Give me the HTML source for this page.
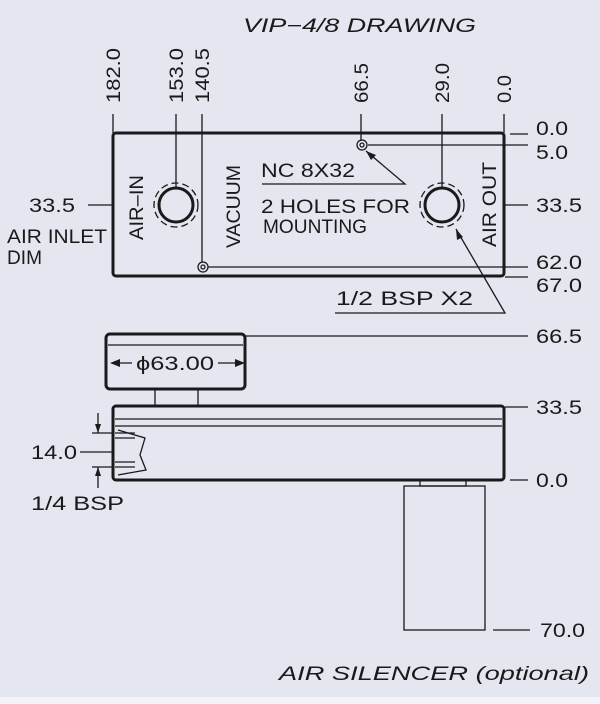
<!DOCTYPE html>
<html><head><style>
html,body{margin:0;padding:0;background:#e4e6f0;}
svg{display:block}
text{font-family:"Liberation Sans",sans-serif;fill:#1a1a1a;font-size:19px}
</style></head><body>
<svg width="600" height="704" viewBox="0 0 600 704">
<rect width="600" height="697" fill="#e4e6f0"/>
<rect y="697" width="600" height="7" fill="#f4f4f8"/>
<g stroke="#1a1a1a" fill="none" stroke-width="1.3">
<rect x="113" y="133" width="391" height="143" rx="3" stroke-width="3"/>
<line x1="113" y1="114" x2="113" y2="133"/>
<line x1="176" y1="114" x2="176" y2="188"/>
<line x1="202" y1="114" x2="202" y2="262"/>
<line x1="361" y1="114" x2="361" y2="141"/>
<line x1="442" y1="114" x2="442" y2="188"/>
<line x1="504" y1="114" x2="504" y2="133"/>
<line x1="510" y1="134" x2="528" y2="134"/>
<line x1="368" y1="145" x2="528" y2="145"/>
<line x1="505" y1="205" x2="528" y2="205"/>
<line x1="208" y1="267" x2="528" y2="267"/>
<line x1="505" y1="277" x2="528" y2="277"/>
<line x1="88" y1="205" x2="113" y2="205"/>
<circle cx="176" cy="205" r="17" stroke-width="3"/>
<circle cx="176" cy="205" r="22" stroke-dasharray="7 4"/>
<circle cx="442" cy="205" r="17" stroke-width="3"/>
<circle cx="442" cy="205" r="22" stroke-dasharray="7 4"/>
<circle cx="362" cy="145" r="5"/><circle cx="362" cy="145" r="2"/>
<circle cx="203" cy="267" r="5"/><circle cx="203" cy="267" r="2"/>
<polyline points="262,184 405,184 366,151"/>
<polyline points="335,313 505,313 456,229"/>
<rect x="106" y="334" width="139" height="55" rx="4" stroke-width="3"/>
<line x1="108" y1="345" x2="243" y2="345"/>
<rect x="155" y="389" width="43" height="17"/>
<line x1="245" y1="336" x2="528" y2="336"/>
<line x1="112" y1="363" x2="132" y2="363"/>
<line x1="218" y1="363" x2="243" y2="363"/>
<rect x="113" y="406" width="391" height="74" rx="3" stroke-width="3"/>
<line x1="115" y1="419" x2="502" y2="419"/>
<line x1="115" y1="426" x2="502" y2="426"/>
<line x1="505" y1="407" x2="528" y2="407"/>
<line x1="510" y1="480" x2="528" y2="480"/>
<line x1="115" y1="433" x2="135" y2="433"/>
<line x1="115" y1="438" x2="135" y2="438"/>
<line x1="115" y1="462" x2="135" y2="462"/>
<line x1="115" y1="467" x2="135" y2="467"/>
<polyline points="118,430 145,438 140,455 146,470 118,475"/>
<line x1="98" y1="413" x2="98" y2="433"/>
<line x1="98" y1="467" x2="98" y2="488"/>
<line x1="92" y1="433" x2="113" y2="433"/>
<line x1="92" y1="467" x2="113" y2="467"/>
<line x1="80" y1="452" x2="113" y2="452"/>
<rect x="420" y="480" width="46" height="6"/>
<rect x="404" y="486" width="81" height="144"/>
<line x1="493" y1="630" x2="530" y2="630"/>
</g>
<g fill="#1a1a1a">
<polygon points="366,151 376,155 371,160"/>
<polygon points="456,229 463,237 457,240"/>
<polygon points="110,363 120,359 120,367"/>
<polygon points="245,363 235,359 235,367"/>
<polygon points="98,433 95,424 101,424"/>
<polygon points="98,467 95,476 101,476"/>
</g>
<text x="243" y="32" font-size="25" font-style="italic" textLength="233" lengthAdjust="spacingAndGlyphs">VIP−4/8  DRAWING</text>
<g>
<text transform="translate(120,103) rotate(-90)" textLength="55" lengthAdjust="spacingAndGlyphs">182.0</text>
<text transform="translate(183,103) rotate(-90)" textLength="55" lengthAdjust="spacingAndGlyphs">153.0</text>
<text transform="translate(209,103) rotate(-90)" textLength="55" lengthAdjust="spacingAndGlyphs">140.5</text>
<text transform="translate(368,103) rotate(-90)" textLength="40" lengthAdjust="spacingAndGlyphs">66.5</text>
<text transform="translate(449,103) rotate(-90)" textLength="40" lengthAdjust="spacingAndGlyphs">29.0</text>
<text transform="translate(511,103) rotate(-90)" textLength="28" lengthAdjust="spacingAndGlyphs">0.0</text>
<text x="536" y="135" textLength="32" lengthAdjust="spacingAndGlyphs">0.0</text>
<text x="536" y="159" textLength="32" lengthAdjust="spacingAndGlyphs">5.0</text>
<text x="536" y="212" textLength="46" lengthAdjust="spacingAndGlyphs">33.5</text>
<text x="536" y="269" textLength="46" lengthAdjust="spacingAndGlyphs">62.0</text>
<text x="536" y="292" textLength="46" lengthAdjust="spacingAndGlyphs">67.0</text>
<text x="29" y="212" textLength="46" lengthAdjust="spacingAndGlyphs">33.5</text>
<text x="7" y="243" textLength="100" lengthAdjust="spacingAndGlyphs">AIR  INLET</text>
<text x="7" y="264" textLength="35" lengthAdjust="spacingAndGlyphs">DIM</text>
<text transform="translate(143,240) rotate(-90)" textLength="65" lengthAdjust="spacingAndGlyphs">AIR–IN</text>
<text transform="translate(240,248) rotate(-90)" textLength="83" lengthAdjust="spacingAndGlyphs">VACUUM</text>
<text transform="translate(496,247) rotate(-90)" textLength="85" lengthAdjust="spacingAndGlyphs">AIR  OUT</text>
<text x="261" y="177" textLength="94" lengthAdjust="spacingAndGlyphs">NC  8X32</text>
<text x="261" y="213" textLength="149" lengthAdjust="spacingAndGlyphs">2  HOLES  FOR</text>
<text x="263" y="233" font-size="20" textLength="104" lengthAdjust="spacingAndGlyphs">MOUNTING</text>
<text x="336" y="305" textLength="137" lengthAdjust="spacingAndGlyphs">1/2  BSP  X2</text>
<text x="536" y="343" textLength="46" lengthAdjust="spacingAndGlyphs">66.5</text>
<text x="136" y="370" textLength="78" lengthAdjust="spacingAndGlyphs">ϕ63.00</text>
<text x="536" y="414" textLength="46" lengthAdjust="spacingAndGlyphs">33.5</text>
<text x="31" y="459" textLength="46" lengthAdjust="spacingAndGlyphs">14.0</text>
<text x="536" y="487" textLength="32" lengthAdjust="spacingAndGlyphs">0.0</text>
<text x="31" y="510" textLength="93" lengthAdjust="spacingAndGlyphs">1/4  BSP</text>
<text x="540" y="637" textLength="45" lengthAdjust="spacingAndGlyphs">70.0</text>
<text x="279" y="680" font-size="22" font-style="italic" textLength="310" lengthAdjust="spacingAndGlyphs">AIR  SILENCER  (optional)</text>
</g>
</svg>
</body></html>
